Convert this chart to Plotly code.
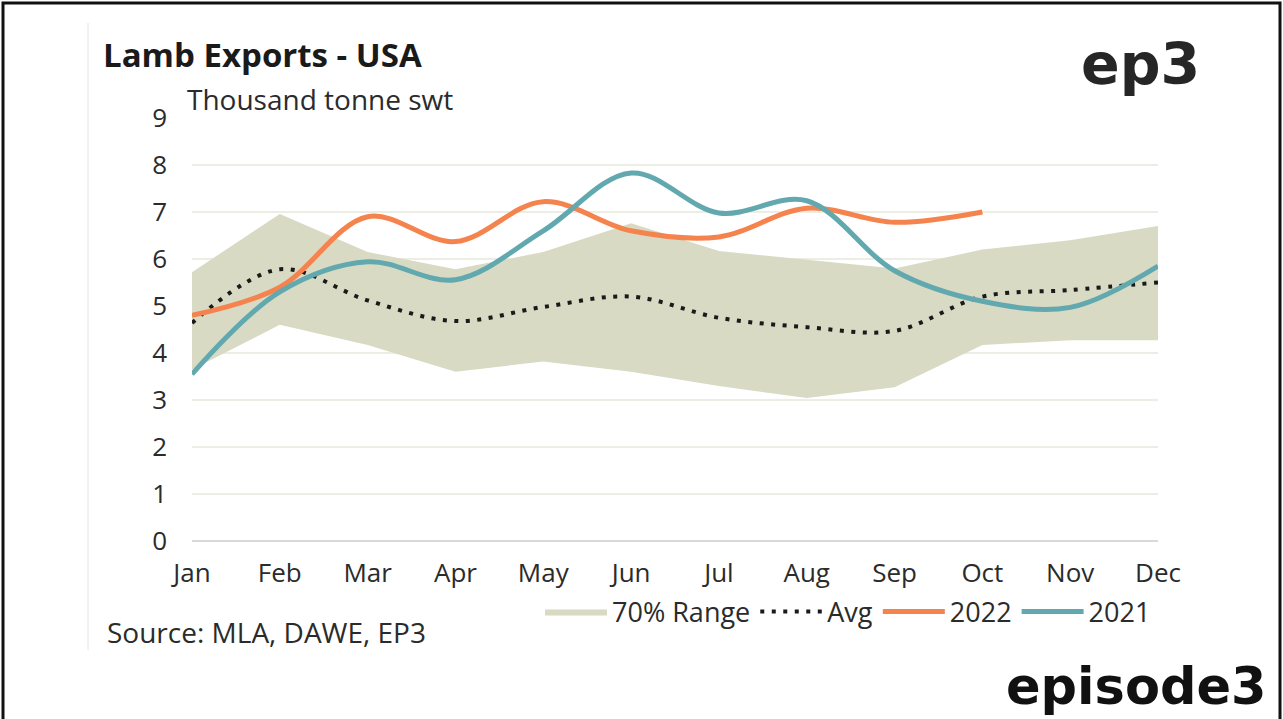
import plotly.graph_objects as go

months = ["Jan", "Feb", "Mar", "Apr", "May", "Jun", "Jul", "Aug", "Sep", "Oct", "Nov", "Dec"]
range_low = [3.65, 4.6, 4.17, 3.6, 3.82, 3.6, 3.3, 3.04, 3.27, 4.17, 4.27, 4.27]
range_high = [5.72, 6.96, 6.15, 5.78, 6.15, 6.76, 6.17, 5.98, 5.8, 6.2, 6.4, 6.7]
avg = [4.64, 5.78, 5.12, 4.68, 4.98, 5.2, 4.75, 4.55, 4.47, 5.2, 5.34, 5.5]
y2022 = [4.8, 5.4, 6.9, 6.37, 7.22, 6.6, 6.47, 7.08, 6.78, 7.0]
y2021 = [3.55, 5.3, 5.94, 5.56, 6.6, 7.83, 6.98, 7.24, 5.75, 5.1, 4.97, 5.85]
y_ticks = [0, 1, 2, 3, 4, 5, 6, 7, 8, 9]

FONT = "Open Sans"
LOGO = "DejaVu Sans"
TXT = "#2b2b2b"
xi = list(range(len(months)))

# plot area in pixels: x 192..1158, y 118 (9) .. 541 (0)
L, R, T, B = 192, 1158, 118, 541
W, H = R - L, B - T


def px(x):
    return (x - L) / W


def py(y):
    return (B - y) / H


fig = go.Figure()
fig.add_trace(go.Scatter(x=xi, y=range_low, mode="lines", line=dict(width=0, color="#D8DAC4"),
                         showlegend=False, hoverinfo="skip"))
fig.add_trace(go.Scatter(x=xi, y=range_high, mode="lines", fill="tonexty", fillcolor="#D8DAC4",
                         line=dict(width=0, color="#D8DAC4"), name="70% Range"))
fig.add_trace(go.Scatter(x=xi, y=avg, mode="lines", name="Avg",
                         line=dict(color="#1a1a1a", width=4, dash="4px,7.5px", shape="spline")))
fig.add_trace(go.Scatter(x=xi[:len(y2022)], y=y2022, mode="lines", name="2022",
                         line=dict(color="#F5834E", width=5, shape="spline")))
fig.add_trace(go.Scatter(x=xi, y=y2021, mode="lines", name="2021",
                         line=dict(color="#62A8AF", width=5, shape="spline")))

fig.update_layout(
    width=1283, height=719,
    margin=dict(l=L, r=1283 - R, t=T, b=719 - B),
    paper_bgcolor="white", plot_bgcolor="white",
    font=dict(family=FONT, color=TXT, size=26),
    showlegend=True,
    legend=dict(orientation="h", x=px(848), y=py(612), xanchor="center", yanchor="middle",
                font=dict(size=27, color=TXT), bgcolor="rgba(0,0,0,0)",
                itemwidth=62, tracegroupgap=0, traceorder="normal"),
    xaxis=dict(range=[0, 11], tickvals=xi, ticktext=months, showgrid=False, zeroline=False,
               showline=False, ticks="", ticklabelstandoff=14, tickfont=dict(size=26, color=TXT),
               fixedrange=True),
    yaxis=dict(range=[0, 9], tickvals=y_ticks, showgrid=True, gridcolor="#ECEDE3", gridwidth=2,
               zeroline=True, zerolinecolor="#D9D9D9", zerolinewidth=2, showline=False,
               ticks="", ticklabelstandoff=24, tickfont=dict(size=26, color=TXT), fixedrange=True),
    annotations=[
        dict(text="<b>Lamb Exports - USA</b>", xref="paper", yref="paper", x=px(101),
             y=py(54), xanchor="left", yanchor="middle", showarrow=False,
             font=dict(size=33, color="#1a1a1a", family=FONT)),
        dict(text="Thousand tonne swt", xref="paper", yref="paper", x=px(185),
             y=py(99), xanchor="left", yanchor="middle", showarrow=False,
             font=dict(size=28, color=TXT, family=FONT)),
        dict(text="Source: MLA, DAWE, EP3", xref="paper", yref="paper", x=px(105),
             y=py(632), xanchor="left", yanchor="middle", showarrow=False,
             font=dict(size=28, color=TXT, family=FONT)),
        dict(text="<b>ep3</b>", xref="paper", yref="paper", x=px(1202),
             y=py(64), xanchor="right", yanchor="middle", showarrow=False,
             font=dict(size=57, color="#262626", family=LOGO)),
        dict(text="<b>episode3</b>", xref="paper", yref="paper", x=px(1269),
             y=py(686), xanchor="right", yanchor="middle", showarrow=False,
             font=dict(size=51, color="#111111", family=LOGO)),
    ],
    shapes=[
        dict(type="rect", xref="paper", yref="paper", x0=px(3), x1=px(1280),
             y0=py(740), y1=py(3), line=dict(color="#111111", width=3), layer="above"),
        dict(type="line", xref="paper", yref="paper", x0=px(88), x1=px(88),
             y0=py(650), y1=py(23), line=dict(color="#E4E4E4", width=1)),
    ],
)

fig.write_html("out.html", config={"displayModeBar": False},
               post_script="document.body.style.margin='0px';")
